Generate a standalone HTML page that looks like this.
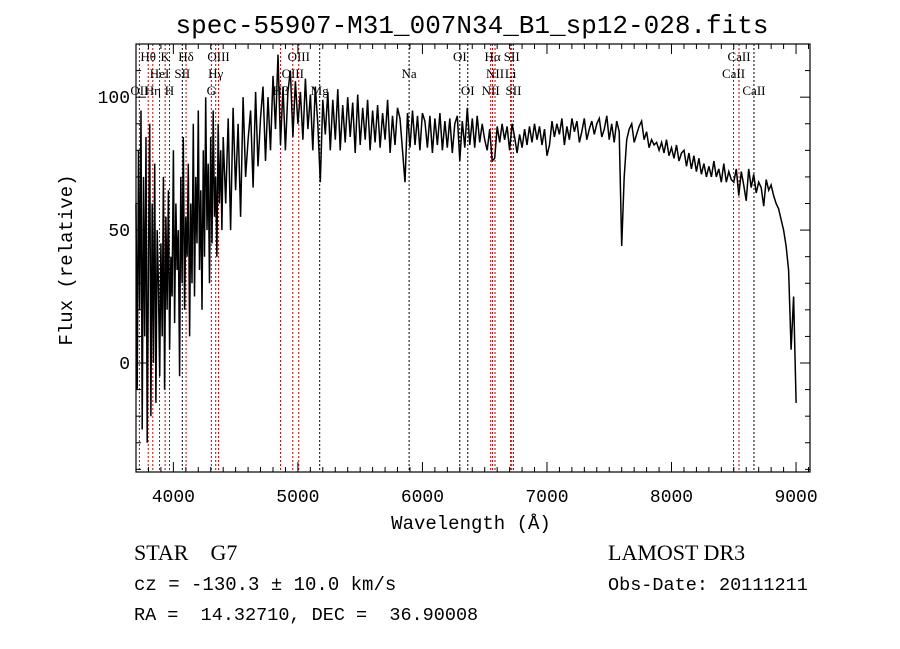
<!DOCTYPE html>
<html><head><meta charset="utf-8"><style>
body{margin:0;background:#fff;}
svg{display:block;font-family:"Liberation Sans",sans-serif;}
.m{font-family:"Liberation Mono",monospace;}
</style></head><body>
<svg id="chart" width="900" height="649" viewBox="0 0 900 649">
<text x="472" y="33" text-anchor="middle" font-size="26" class="m">spec-55907-M31_007N34_B1_sp12-028.fits</text>
<g id="lines"></g>
<g id="labels" font-family="Liberation Serif,serif" font-size="13"></g>
<polyline id="spec" fill="none" stroke="#000" stroke-width="1.5"></polyline>
<rect x="136" y="44" width="674" height="428" fill="none" stroke="#000" stroke-width="1.2"/>
<g id="axes"></g>
<text x="471" y="529" text-anchor="middle" font-size="19" class="m">Wavelength (Å)</text>
<text transform="translate(72,260) rotate(-90)" text-anchor="middle" font-size="19" class="m">Flux (relative)</text>
<text x="134" y="560" font-size="22" font-family="Liberation Serif,serif" xml:space="preserve" style="white-space:pre">STAR    G7</text>
<text x="608" y="560" font-size="22" font-family="Liberation Serif,serif">LAMOST DR3</text>
<text x="134" y="590" font-size="19" class="m" xml:space="preserve" style="white-space:pre">cz = -130.3 ± 10.0 km/s</text>
<text x="608" y="590" font-size="18.5" class="m">Obs-Date: 20111211</text>
<text x="134" y="620" font-size="18.5" class="m" xml:space="preserve" style="white-space:pre">RA =  14.32710, DEC =  36.90008</text>
</svg>
<script>
const waves1Start=3700, waves1Step=10;
const flux1=[60,-10,80,20,95,-25,70,10,85,-30,40,90,-20,60,0,75,-15,50,30,-5,45,10,70,-10,55,20,65,5,40,25,80,15,60,35,50,-5,70,30,85,20,55,40,75,10,60,30,90,25,70,45,95,35,65,20,80,40,100,50,75,30,85,45,95,55,70,40,90,60,80,50,85];
const waves2Start=4420, waves2Step=20;
const flux2=[60,92,50,96,65,90,55,100,70,84,95,66,102,74,92,104,76,100,80,108,88,116,82,104,80,102,110,85,106,90,102,84,107,88,101,80,104,90,68,99,86,102,80,99,84,103,80,97,83,100,85,98,79,101,82,96,84,99,80,95,83,97,81,94,84,99,79,93,82,96,92,80,68,94,81,95,82,93,80,94,91,81,93,79,92,82,94,80,91,81,92,79,90,93,76,91,81,96,82,92,81,93,83,90,84,80,88,76,77,89,83,90,84,89,80,90,85,79,86,81,88,82,89,83,90,84,89,82,88,78,82,91,85,90,86,92,82,89,84,92,87,91,83,87,92,84,88,91,86,90,92,85,88,93,84,90,83,91,87,44,70,84,88,90,83,86,89,91,84,87,81,84,82,83,80,83,79,84,78,81,77,82,76,79,80,74,79,73,78,72,77,71,75,70,74,70,76,70,73,68,75,68,72,69,68,73,63,72,67,61,73,66,71,64,68,66,59,69,65,67,63,60,58,54,50,44,35,5,25,-15];
const lineWaves=[3727,3798,3835,3889,3934,3969,4072,4102,4305,4340,4363,4861,4959,5007,5175,5893,6300,6364,6548,6563,6583,6708,6717,6731,8498,8542,8662];
const lineNames=["OII","Hθ","Hη","HeI","K","H","SII","Hδ","G","Hγ","OIII","Hβ","OIII","OIII","Mg","Na","OI","OI","NII","Hα","NII","Li","SII","SII","CaII","CaII","CaII"];
const lineRed=[1,1,1,1,1,1,0,1,1,1,1,1,1,1,0,0,0,0,1,1,1,1,1,1,1,1,0];
const lineRow=[2,0,2,1,0,2,1,0,2,1,0,2,1,0,2,1,0,2,2,0,1,1,0,2,1,0,2];
const xTicks=[4000,5000,6000,7000,8000,9000];
const yTicks=[0,50,100];
const X0=136,X1=810,W0=3700,W1=9112,Y0=472,Y1=44,F0=-41,F1=120;
const sx=w=>X0+(w-W0)/(W1-W0)*(X1-X0);
const sy=f=>Y0-(f-F0)/(F1-F0)*(Y0-Y1);
const NS="http://www.w3.org/2000/svg";
let pts=[];
flux1.forEach((f,i)=>pts.push(sx(waves1Start+i*waves1Step).toFixed(1)+","+sy(f).toFixed(1)));
flux2.forEach((f,i)=>pts.push(sx(waves2Start+i*waves2Step).toFixed(1)+","+sy(f).toFixed(1)));
document.getElementById('spec').setAttribute('points',pts.join(' '));
const gl=document.getElementById('lines'),gt=document.getElementById('labels');
lineWaves.forEach((w,i)=>{
 const l=document.createElementNS(NS,'line');
 l.setAttribute('x1',sx(w));l.setAttribute('x2',sx(w));l.setAttribute('y1',Y1);l.setAttribute('y2',Y0);
 l.setAttribute('stroke',lineRed[i]?'#c00000':'#000');l.setAttribute('stroke-width','1');l.setAttribute('stroke-dasharray','2,2');
 
 
 gl.appendChild(l);
 const t=document.createElementNS(NS,'text');
 t.setAttribute('x',sx(w));t.setAttribute('y',61+lineRow[i]*17);t.setAttribute('text-anchor','middle');
 t.textContent=lineNames[i];
 
 
 gt.appendChild(t);
});
const ga=document.getElementById('axes');
function ln(x1,y1,x2,y2){const l=document.createElementNS(NS,'line');l.setAttribute('x1',x1);l.setAttribute('y1',y1);l.setAttribute('x2',x2);l.setAttribute('y2',y2);l.setAttribute('stroke','#000');
 
 
 ga.appendChild(l);}
for(let w=3800;w<=9100;w+=100){const big=w%1000===0;const x=sx(w);ln(x,Y0,x,Y0-(big?10:5));ln(x,Y1,x,Y1+(big?10:5));}
for(let f=-40;f<=120;f+=10){const big=f%50===0;const y=sy(f);ln(X0,y,X0+(big?10:5),y);ln(X1,y,X1-(big?10:5),y);}
xTicks.forEach(v=>{const t=document.createElementNS(NS,'text');t.setAttribute('x',sx(v));t.setAttribute('y',Y0+30);t.setAttribute('text-anchor','middle');t.setAttribute('font-size','18');t.setAttribute('class','m');t.textContent=v;
 
 
 ga.appendChild(t);});
yTicks.forEach(v=>{const t=document.createElementNS(NS,'text');t.setAttribute('x',X0-6);t.setAttribute('y',sy(v)+6);t.setAttribute('text-anchor','end');t.setAttribute('font-size','18');t.setAttribute('class','m');t.textContent=v;
 
 
 ga.appendChild(t);});
</script>
</body></html>
